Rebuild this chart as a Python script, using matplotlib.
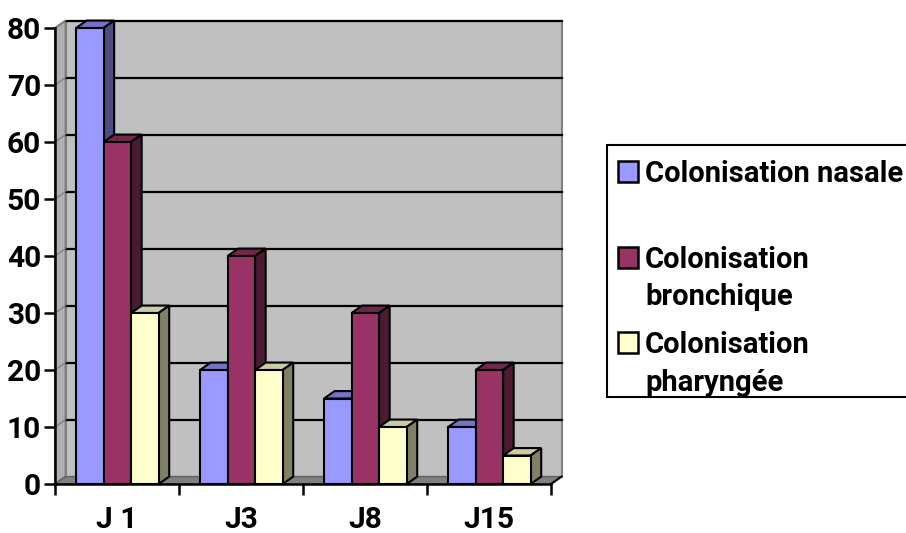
import matplotlib
matplotlib.use("Agg")
import matplotlib.pyplot as plt
from matplotlib.patches import Polygon, Rectangle
import numpy as np

plt.rcParams['font.family'] = ['Roboto', 'DejaVu Sans']
plt.rcParams['font.weight'] = 'bold'

jours = ["J 1", "J3", "J8", "J15"]
nasale = [80, 20, 15, 10]
bronchique = [60, 40, 30, 20]
pharyngee = [30, 20, 10, 5]

series = [nasale, bronchique, pharyngee]
noms = ["Colonisation nasale", "Colonisation\nbronchique", "Colonisation\npharyngée"]
# front, top, side colours for each series
couleurs = [("#9999FF", "#7373C8", "#4D4D80"),
            ("#993366", "#73264D", "#4D1A33"),
            ("#FFFFCC", "#CCCCA3", "#808066")]

W, H = 906, 533
fig = plt.figure(figsize=(W / 100, H / 100), dpi=100)
ax = fig.add_axes([55 / W, (H - 484) / H, (551 - 55) / W, (484 - 28) / H])
ax.set_xlim(0, 4)
ax.set_ylim(0, 80)

dx, dy = 0.085, 1.3   # depth offset of the pseudo 3D box
ymax = 80

# back wall, left side wall, floor
ax.add_patch(Polygon([(dx, dy), (4 + dx, dy), (4 + dx, ymax + dy), (dx, ymax + dy)],
                     closed=True, facecolor="#C0C0C0", edgecolor="#808080", lw=1.5,
                     clip_on=False, zorder=1))
ax.add_patch(Polygon([(0, 0), (dx, dy), (dx, ymax + dy), (0, ymax)],
                     closed=True, facecolor="#B0B0B0", edgecolor="#808080", lw=1.5,
                     clip_on=False, zorder=1))
for v in range(10, ymax + 1, 10):
    ax.plot([dx, 4 + dx], [v + dy, v + dy], color="black", lw=1.6, clip_on=False, zorder=2)
    ax.plot([0, dx], [v, v + dy], color="#808080", lw=1.0, clip_on=False, zorder=2)
ax.add_patch(Polygon([(0, 0), (4, 0), (4 + dx, dy), (dx, dy)],
                     closed=True, facecolor="#808080", edgecolor="#606060", lw=1.0,
                     clip_on=False, zorder=2))
ax.plot([4, 4 + dx], [0, dy], color="black", lw=1.5, clip_on=False, zorder=2)

# bars
w = 0.222
debut = 0.17
z = 3
for i in range(len(jours)):
    for j, (vals, (cf, ct, cs)) in enumerate(zip(series, couleurs)):
        x0 = i + debut + j * w
        v = vals[i]
        top = [(x0, v), (x0 + w, v), (x0 + w + dx, v + dy), (x0 + dx, v + dy)]
        side = [(x0 + w, 0), (x0 + w + dx, dy), (x0 + w + dx, v + dy), (x0 + w, v)]
        ax.add_patch(Polygon(top, closed=True, facecolor=ct, edgecolor="black",
                             lw=1.5, clip_on=False, zorder=z))
        ax.add_patch(Polygon(side, closed=True, facecolor=cs, edgecolor="black",
                             lw=1.5, clip_on=False, zorder=z))
        ax.add_patch(Rectangle((x0, 0), w, v, facecolor=cf, edgecolor="black",
                               lw=1.5, clip_on=False, zorder=z + 0.5))
        z += 1

# axes and ticks
for s in ["top", "right"]:
    ax.spines[s].set_visible(False)
ax.spines["left"].set_linewidth(1.8)
ax.spines["bottom"].set_linewidth(1.8)
ax.spines["left"].set_zorder(50)
ax.spines["bottom"].set_zorder(50)
ax.set_facecolor("none")
ax.set_yticks(range(0, 81, 10))
ax.tick_params(axis="y", length=8, width=1.8, pad=2, labelsize=21.5)
ax.set_xticks(range(0, 5))
ax.set_xticklabels([])
ax.set_xticks(np.arange(len(jours)) + 0.5, minor=True)
ax.set_xticklabels(jours, minor=True)
ax.tick_params(axis="x", which="major", length=8, width=1.8)
ax.tick_params(axis="x", which="minor", length=0, pad=16, labelsize=21.5)

# legend
fig.patches.append(Rectangle((607 / W, (H - 397) / H), 1.0, (397 - 145) / H,
                             transform=fig.transFigure, facecolor="white",
                             edgecolor="black", lw=1.5, zorder=1))
lignes = [[182], [268, 305], [353, 391]]
for nom, (cf, _, _), bases in zip(noms, couleurs, lignes):
    fig.patches.append(Rectangle((618 / W, (H - bases[0]) / H), 20 / W, 21 / H,
                                 transform=fig.transFigure, facecolor=cf,
                                 edgecolor="black", lw=1.8, zorder=2))
    for txt, b in zip(nom.split("\n"), bases):
        fig.text(645 / W, (H - b) / H, txt, fontsize=21, fontweight="bold",
                 va="baseline", ha="left")

fig.savefig("out.png", dpi=100)
